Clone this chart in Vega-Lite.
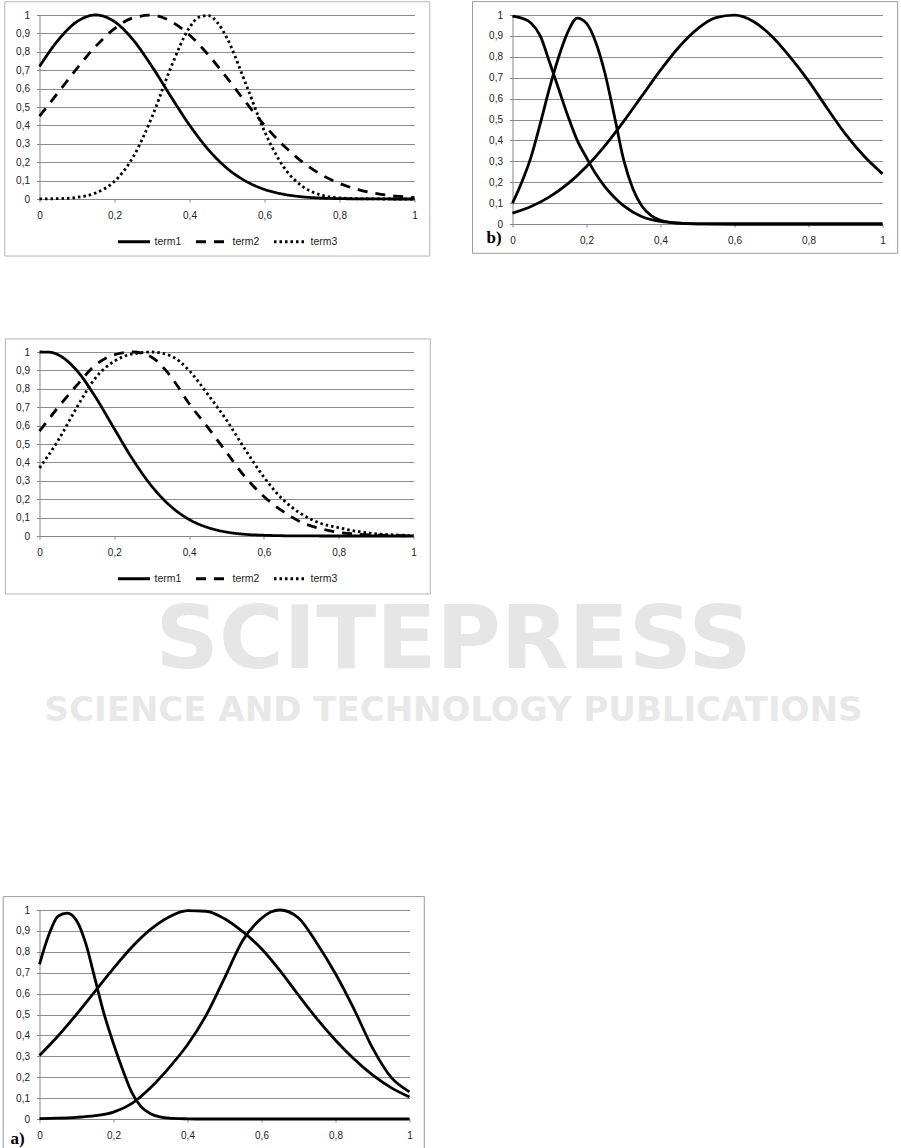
{
  "$schema": "https://vega.github.io/schema/vega-lite/v6.json",
  "padding": {"left": 2.5, "top": 1, "right": 0, "bottom": 0},
  "config": {
    "view": {"stroke": null},
    "font": "Liberation Sans",
    "axis": {"labelFont": "Liberation Sans", "labelFontSize": 10, "labelColor": "#222222", "domainColor": "#868686", "tickColor": "#868686", "gridColor": "#8c8c8c", "gridWidth": 1, "domainWidth": 1},
    "legend": {"layout": {"bottom": {"anchor": "middle"}}}
  },
  "datasets": {
    "p1": [
      {"s":"term1","x":0,"y":0.72},{"s":"term1","x":0.05,"y":0.864},{"s":"term1","x":0.1,"y":0.964},{"s":"term1","x":0.15,"y":1.0},{"s":"term1","x":0.2,"y":0.964},{"s":"term1","x":0.25,"y":0.864},{"s":"term1","x":0.3,"y":0.72},{"s":"term1","x":0.35,"y":0.558},{"s":"term1","x":0.4,"y":0.402},{"s":"term1","x":0.45,"y":0.269},{"s":"term1","x":0.5,"y":0.167},{"s":"term1","x":0.55,"y":0.097},{"s":"term1","x":0.6,"y":0.052},{"s":"term1","x":0.65,"y":0.026},{"s":"term1","x":0.7,"y":0.012},{"s":"term1","x":0.75,"y":0.005},{"s":"term1","x":0.8,"y":0.002},{"s":"term1","x":0.85,"y":0.001},{"s":"term1","x":0.9,"y":0.0003},{"s":"term1","x":0.95,"y":0.0001},{"s":"term1","x":1,"y":0},
      {"s":"term2","x":0,"y":0.45},{"s":"term2","x":0.05,"y":0.579},{"s":"term2","x":0.1,"y":0.71},{"s":"term2","x":0.15,"y":0.83},{"s":"term2","x":0.2,"y":0.926},{"s":"term2","x":0.25,"y":0.985},{"s":"term2","x":0.3,"y":0.999},{"s":"term2","x":0.35,"y":0.966},{"s":"term2","x":0.4,"y":0.891},{"s":"term2","x":0.45,"y":0.784},{"s":"term2","x":0.5,"y":0.658},{"s":"term2","x":0.55,"y":0.526},{"s":"term2","x":0.6,"y":0.401},{"s":"term2","x":0.65,"y":0.292},{"s":"term2","x":0.7,"y":0.203},{"s":"term2","x":0.75,"y":0.134},{"s":"term2","x":0.8,"y":0.085},{"s":"term2","x":0.85,"y":0.051},{"s":"term2","x":0.9,"y":0.029},{"s":"term2","x":0.95,"y":0.016},{"s":"term2","x":1,"y":0.008},
      {"s":"term3","x":0,"y":0.0004},{"s":"term3","x":0.05,"y":0.002},{"s":"term3","x":0.1,"y":0.009},{"s":"term3","x":0.15,"y":0.033},{"s":"term3","x":0.2,"y":0.096},{"s":"term3","x":0.25,"y":0.229},{"s":"term3","x":0.3,"y":0.446},{"s":"term3","x":0.35,"y":0.713},{"s":"term3","x":0.4,"y":0.932},{"s":"term3","x":0.425,"y":0.988},{"s":"term3","x":0.45,"y":0.997},{"s":"term3","x":0.475,"y":0.957},{"s":"term3","x":0.5,"y":0.874},{"s":"term3","x":0.55,"y":0.627},{"s":"term3","x":0.6,"y":0.368},{"s":"term3","x":0.65,"y":0.177},{"s":"term3","x":0.7,"y":0.07},{"s":"term3","x":0.75,"y":0.022},{"s":"term3","x":0.8,"y":0.006},{"s":"term3","x":0.85,"y":0.0013},{"s":"term3","x":0.9,"y":0.0002},{"s":"term3","x":0.95,"y":0},{"s":"term3","x":1,"y":0}
    ],
    "p2": [
      {"s":"A","x":0,"y":0.995},{"s":"A","x":0.025,"y":0.985},{"s":"A","x":0.05,"y":0.962},{"s":"A","x":0.075,"y":0.9},{"s":"A","x":0.1,"y":0.775},{"s":"A","x":0.125,"y":0.645},{"s":"A","x":0.15,"y":0.515},{"s":"A","x":0.175,"y":0.4},{"s":"A","x":0.2,"y":0.317},{"s":"A","x":0.225,"y":0.24},{"s":"A","x":0.25,"y":0.178},{"s":"A","x":0.275,"y":0.128},{"s":"A","x":0.3,"y":0.088},{"s":"A","x":0.35,"y":0.035},{"s":"A","x":0.4,"y":0.012},{"s":"A","x":0.45,"y":0.004},{"s":"A","x":0.5,"y":0.001},{"s":"A","x":0.6,"y":0},{"s":"A","x":0.7,"y":0},{"s":"A","x":0.8,"y":0},{"s":"A","x":0.9,"y":0},{"s":"A","x":1,"y":0},
      {"s":"B","x":0,"y":0.1},{"s":"B","x":0.025,"y":0.2},{"s":"B","x":0.05,"y":0.32},{"s":"B","x":0.075,"y":0.48},{"s":"B","x":0.1,"y":0.65},{"s":"B","x":0.125,"y":0.8},{"s":"B","x":0.15,"y":0.92},{"s":"B","x":0.175,"y":0.985},{"s":"B","x":0.2,"y":0.96},{"s":"B","x":0.225,"y":0.87},{"s":"B","x":0.25,"y":0.72},{"s":"B","x":0.275,"y":0.52},{"s":"B","x":0.3,"y":0.31},{"s":"B","x":0.325,"y":0.17},{"s":"B","x":0.35,"y":0.085},{"s":"B","x":0.375,"y":0.04},{"s":"B","x":0.4,"y":0.018},{"s":"B","x":0.45,"y":0.004},{"s":"B","x":0.5,"y":0.001},{"s":"B","x":0.6,"y":0},{"s":"B","x":0.7,"y":0},{"s":"B","x":0.8,"y":0},{"s":"B","x":0.9,"y":0},{"s":"B","x":1,"y":0},
      {"s":"C","x":0,"y":0.052},{"s":"C","x":0.05,"y":0.084},{"s":"C","x":0.1,"y":0.13},{"s":"C","x":0.15,"y":0.193},{"s":"C","x":0.2,"y":0.275},{"s":"C","x":0.25,"y":0.375},{"s":"C","x":0.3,"y":0.49},{"s":"C","x":0.35,"y":0.613},{"s":"C","x":0.4,"y":0.736},{"s":"C","x":0.45,"y":0.847},{"s":"C","x":0.5,"y":0.934},{"s":"C","x":0.55,"y":0.987},{"s":"C","x":0.6,"y":0.999},{"s":"C","x":0.65,"y":0.97},{"s":"C","x":0.7,"y":0.9},{"s":"C","x":0.75,"y":0.8},{"s":"C","x":0.8,"y":0.685},{"s":"C","x":0.85,"y":0.555},{"s":"C","x":0.9,"y":0.43},{"s":"C","x":0.95,"y":0.325},{"s":"C","x":1,"y":0.24}
    ],
    "p3": [
      {"s":"term1","x":0,"y":1.0},{"s":"term1","x":0.025,"y":0.999},{"s":"term1","x":0.05,"y":0.985},{"s":"term1","x":0.075,"y":0.95},{"s":"term1","x":0.1,"y":0.899},{"s":"term1","x":0.15,"y":0.754},{"s":"term1","x":0.2,"y":0.583},{"s":"term1","x":0.25,"y":0.414},{"s":"term1","x":0.3,"y":0.271},{"s":"term1","x":0.35,"y":0.163},{"s":"term1","x":0.4,"y":0.09},{"s":"term1","x":0.45,"y":0.046},{"s":"term1","x":0.5,"y":0.0215},{"s":"term1","x":0.55,"y":0.009},{"s":"term1","x":0.6,"y":0.004},{"s":"term1","x":0.65,"y":0.0014},{"s":"term1","x":0.7,"y":0.0005},{"s":"term1","x":0.8,"y":0},{"s":"term1","x":0.9,"y":0},{"s":"term1","x":1,"y":0},
      {"s":"term2","x":0,"y":0.57},{"s":"term2","x":0.05,"y":0.7},{"s":"term2","x":0.1,"y":0.82},{"s":"term2","x":0.15,"y":0.93},{"s":"term2","x":0.2,"y":0.985},{"s":"term2","x":0.25,"y":1.0},{"s":"term2","x":0.3,"y":0.972},{"s":"term2","x":0.35,"y":0.87},{"s":"term2","x":0.4,"y":0.72},{"s":"term2","x":0.45,"y":0.59},{"s":"term2","x":0.5,"y":0.455},{"s":"term2","x":0.55,"y":0.32},{"s":"term2","x":0.6,"y":0.215},{"s":"term2","x":0.65,"y":0.135},{"s":"term2","x":0.7,"y":0.075},{"s":"term2","x":0.75,"y":0.04},{"s":"term2","x":0.8,"y":0.02},{"s":"term2","x":0.85,"y":0.01},{"s":"term2","x":0.9,"y":0.005},{"s":"term2","x":0.95,"y":0.002},{"s":"term2","x":1,"y":0.001},
      {"s":"term3","x":0,"y":0.37},{"s":"term3","x":0.05,"y":0.52},{"s":"term3","x":0.1,"y":0.7},{"s":"term3","x":0.15,"y":0.86},{"s":"term3","x":0.2,"y":0.95},{"s":"term3","x":0.25,"y":0.99},{"s":"term3","x":0.3,"y":1.0},{"s":"term3","x":0.35,"y":0.98},{"s":"term3","x":0.4,"y":0.9},{"s":"term3","x":0.45,"y":0.77},{"s":"term3","x":0.5,"y":0.63},{"s":"term3","x":0.55,"y":0.47},{"s":"term3","x":0.6,"y":0.32},{"s":"term3","x":0.65,"y":0.2},{"s":"term3","x":0.7,"y":0.12},{"s":"term3","x":0.75,"y":0.07},{"s":"term3","x":0.8,"y":0.045},{"s":"term3","x":0.85,"y":0.025},{"s":"term3","x":0.9,"y":0.012},{"s":"term3","x":0.95,"y":0.006},{"s":"term3","x":1,"y":0.003}
    ],
    "p4": [
      {"s":"A","x":0,"y":0.74},{"s":"A","x":0.025,"y":0.88},{"s":"A","x":0.05,"y":0.97},{"s":"A","x":0.075,"y":0.985},{"s":"A","x":0.1,"y":0.95},{"s":"A","x":0.125,"y":0.84},{"s":"A","x":0.15,"y":0.67},{"s":"A","x":0.175,"y":0.5},{"s":"A","x":0.2,"y":0.36},{"s":"A","x":0.225,"y":0.235},{"s":"A","x":0.25,"y":0.125},{"s":"A","x":0.275,"y":0.058},{"s":"A","x":0.3,"y":0.025},{"s":"A","x":0.325,"y":0.01},{"s":"A","x":0.35,"y":0.004},{"s":"A","x":0.4,"y":0.001},{"s":"A","x":0.45,"y":0},{"s":"A","x":0.5,"y":0},{"s":"A","x":0.6,"y":0},{"s":"A","x":0.7,"y":0},{"s":"A","x":0.8,"y":0},{"s":"A","x":0.9,"y":0},{"s":"A","x":1,"y":0},
      {"s":"B","x":0,"y":0.304},{"s":"B","x":0.05,"y":0.397},{"s":"B","x":0.1,"y":0.501},{"s":"B","x":0.15,"y":0.611},{"s":"B","x":0.2,"y":0.721},{"s":"B","x":0.25,"y":0.823},{"s":"B","x":0.3,"y":0.907},{"s":"B","x":0.35,"y":0.967},{"s":"B","x":0.4,"y":0.997},{"s":"B","x":0.45,"y":0.994},{"s":"B","x":0.5,"y":0.958},{"s":"B","x":0.55,"y":0.895},{"s":"B","x":0.6,"y":0.815},{"s":"B","x":0.65,"y":0.71},{"s":"B","x":0.7,"y":0.592},{"s":"B","x":0.75,"y":0.479},{"s":"B","x":0.8,"y":0.377},{"s":"B","x":0.85,"y":0.287},{"s":"B","x":0.9,"y":0.211},{"s":"B","x":0.95,"y":0.15},{"s":"B","x":1,"y":0.105},
      {"s":"C","x":0,"y":0.002},{"s":"C","x":0.05,"y":0.004},{"s":"C","x":0.1,"y":0.008},{"s":"C","x":0.15,"y":0.016},{"s":"C","x":0.2,"y":0.033},{"s":"C","x":0.25,"y":0.075},{"s":"C","x":0.3,"y":0.15},{"s":"C","x":0.35,"y":0.245},{"s":"C","x":0.4,"y":0.355},{"s":"C","x":0.45,"y":0.495},{"s":"C","x":0.5,"y":0.674},{"s":"C","x":0.55,"y":0.856},{"s":"C","x":0.6,"y":0.96},{"s":"C","x":0.625,"y":0.99},{"s":"C","x":0.65,"y":1.0},{"s":"C","x":0.7,"y":0.962},{"s":"C","x":0.75,"y":0.84},{"s":"C","x":0.8,"y":0.695},{"s":"C","x":0.85,"y":0.526},{"s":"C","x":0.9,"y":0.34},{"s":"C","x":0.95,"y":0.2},{"s":"C","x":1,"y":0.13}
    ]
  },
  "resolve": {"scale": {"strokeDash": "independent"}},
  "spacing": 168,
  "vconcat": [
    {
      "resolve": {"scale": {"strokeDash": "independent"}},
      "spacing": 81,
      "vconcat": [
        {
          "resolve": {"scale": {"strokeDash": "independent"}},
          "spacing": 41,
          "hconcat": [
            {
              "width": 375, "height": 184,
              "layer": [
                {"data": {"values": [{"k": 1}]}, "mark": {"type": "rect", "fill": "white", "fillOpacity": 0, "stroke": "#b4b4b4", "strokeWidth": 1},
                 "encoding": {
                   "x": {"datum": -0.0925, "type": "quantitative", "scale": {"domain": [0, 1], "nice": false, "zero": false},
                         "axis": {"title": null, "values": [0, 0.2, 0.4, 0.6, 0.8, 1], "grid": false, "tickSize": 3, "labelPadding": 8, "labelFlush": false, "labelOverlap": false, "labelExpr": "replace(format(datum.value, '~g'), '.', ',')"}},
                   "x2": {"datum": 1.0408},
                   "y": {"datum": 1.072, "type": "quantitative", "scale": {"domain": [0, 1], "nice": false, "zero": false},
                         "axis": {"title": null, "values": [0, 0.1, 0.2, 0.3, 0.4, 0.5, 0.6, 0.7, 0.8, 0.9, 1], "grid": true, "tickSize": 3, "labelPadding": 7, "labelFlush": false, "labelOverlap": false, "labelExpr": "replace(format(datum.value, '~g'), '.', ',')"}},
                   "y2": {"datum": -0.31}
                 }},
                {"data": {"name": "p1"}, "mark": {"type": "line", "interpolate": "monotone", "color": "black", "strokeWidth": 2.8},
                 "encoding": {
                   "x": {"field": "x", "type": "quantitative", "scale": {"domain": [0, 1], "nice": false, "zero": false},
                         "axis": {"title": null, "values": [0, 0.2, 0.4, 0.6, 0.8, 1], "grid": false, "tickSize": 3, "labelPadding": 8, "labelFlush": false, "labelOverlap": false, "labelExpr": "replace(format(datum.value, '~g'), '.', ',')"}},
                   "y": {"field": "y", "type": "quantitative", "scale": {"domain": [0, 1], "nice": false, "zero": false},
                         "axis": {"title": null, "values": [0, 0.1, 0.2, 0.3, 0.4, 0.5, 0.6, 0.7, 0.8, 0.9, 1], "grid": true, "tickSize": 3, "labelPadding": 7, "labelFlush": false, "labelOverlap": false, "labelExpr": "replace(format(datum.value, '~g'), '.', ',')"}},
                   "strokeDash": {"field": "s", "type": "nominal",
                                  "scale": {"domain": ["term1", "term2", "term3"], "range": [[1, 0], [10, 8], [2.5, 3]]},
                                  "legend": {"title": null, "orient": "bottom", "direction": "horizontal", "symbolType": "stroke", "symbolSize": 1024, "symbolStrokeWidth": 3, "symbolStrokeColor": "black", "labelFontSize": 10.5, "labelFont": "Liberation Sans", "labelColor": "#222222", "labelOffset": 3, "columnPadding": 8, "offset": 4, "padding": 0}}
                 }}
              ]
            },
            {
              "width": 370, "height": 209,
              "layer": [
                {"data": {"values": [{"k": 1}]}, "mark": {"type": "rect", "fill": "white", "fillOpacity": 0, "stroke": "#9a9a9a", "strokeWidth": 1},
                 "encoding": {
                   "x": {"datum": -0.108, "type": "quantitative", "scale": {"domain": [0, 1], "nice": false, "zero": false},
                         "axis": {"title": null, "values": [0, 0.2, 0.4, 0.6, 0.8, 1], "grid": false, "tickSize": 3, "labelPadding": 8, "labelFlush": false, "labelOverlap": false, "labelExpr": "replace(format(datum.value, '~g'), '.', ',')"}},
                   "x2": {"datum": 1.041},
                   "y": {"datum": 1.064, "type": "quantitative", "scale": {"domain": [0, 1], "nice": false, "zero": false},
                         "axis": {"title": null, "values": [0, 0.1, 0.2, 0.3, 0.4, 0.5, 0.6, 0.7, 0.8, 0.9, 1], "grid": true, "tickSize": 3, "labelPadding": 7, "labelFlush": false, "labelOverlap": false, "labelExpr": "replace(format(datum.value, '~g'), '.', ',')"}},
                   "y2": {"datum": -0.14}
                 }},
                {"data": {"name": "p2"}, "mark": {"type": "line", "interpolate": "monotone", "color": "black", "strokeWidth": 2.8},
                 "encoding": {
                   "x": {"field": "x", "type": "quantitative", "scale": {"domain": [0, 1], "nice": false, "zero": false},
                         "axis": {"title": null, "values": [0, 0.2, 0.4, 0.6, 0.8, 1], "grid": false, "tickSize": 3, "labelPadding": 8, "labelFlush": false, "labelOverlap": false, "labelExpr": "replace(format(datum.value, '~g'), '.', ',')"}},
                   "y": {"field": "y", "type": "quantitative", "scale": {"domain": [0, 1], "nice": false, "zero": false},
                         "axis": {"title": null, "values": [0, 0.1, 0.2, 0.3, 0.4, 0.5, 0.6, 0.7, 0.8, 0.9, 1], "grid": true, "tickSize": 3, "labelPadding": 7, "labelFlush": false, "labelOverlap": false, "labelExpr": "replace(format(datum.value, '~g'), '.', ',')"}},
                   "detail": {"field": "s", "type": "nominal"}
                 }},
                {"data": {"values": [{"k": 1}]}, "mark": {"type": "text", "text": "b)", "font": "Liberation Serif", "fontWeight": "bold", "fontSize": 17, "align": "center", "baseline": "alphabetic", "color": "black"},
                 "encoding": {
                   "x": {"datum": -0.05, "type": "quantitative", "scale": {"domain": [0, 1], "nice": false, "zero": false},
                         "axis": {"title": null, "values": [0, 0.2, 0.4, 0.6, 0.8, 1], "grid": false, "tickSize": 3, "labelPadding": 8, "labelFlush": false, "labelOverlap": false, "labelExpr": "replace(format(datum.value, '~g'), '.', ',')"}},
                   "y": {"datum": -0.091, "type": "quantitative", "scale": {"domain": [0, 1], "nice": false, "zero": false},
                         "axis": {"title": null, "values": [0, 0.1, 0.2, 0.3, 0.4, 0.5, 0.6, 0.7, 0.8, 0.9, 1], "grid": true, "tickSize": 3, "labelPadding": 7, "labelFlush": false, "labelOverlap": false, "labelExpr": "replace(format(datum.value, '~g'), '.', ',')"}}
                 }}
              ]
            }
          ]
        },
        {
          "width": 374, "height": 184,
          "layer": [
            {"data": {"values": [{"k": 1}]}, "mark": {"type": "text", "text": "SCITEPRESS", "font": "DejaVu Sans", "fontWeight": "bold", "fontSize": 88, "align": "center", "baseline": "middle", "color": "#e6e6e6"},
             "encoding": {
               "x": {"datum": 1.107, "type": "quantitative", "scale": {"domain": [0, 1], "nice": false, "zero": false},
                     "axis": {"title": null, "values": [0, 0.2, 0.4, 0.6, 0.8, 1], "grid": false, "tickSize": 3, "labelPadding": 8, "labelFlush": false, "labelOverlap": false, "labelExpr": "replace(format(datum.value, '~g'), '.', ',')"}},
               "y": {"datum": -0.575, "type": "quantitative", "scale": {"domain": [0, 1], "nice": false, "zero": false},
                     "axis": {"title": null, "values": [0, 0.1, 0.2, 0.3, 0.4, 0.5, 0.6, 0.7, 0.8, 0.9, 1], "grid": true, "tickSize": 3, "labelPadding": 7, "labelFlush": false, "labelOverlap": false, "labelExpr": "replace(format(datum.value, '~g'), '.', ',')"}}
             }},
            {"data": {"values": [{"k": 1}]}, "mark": {"type": "text", "text": "SCIENCE AND TECHNOLOGY PUBLICATIONS", "font": "DejaVu Sans", "fontWeight": "bold", "fontSize": 34, "align": "center", "baseline": "middle", "color": "#e8e8e8"},
             "encoding": {
               "x": {"datum": 1.107, "type": "quantitative", "scale": {"domain": [0, 1], "nice": false, "zero": false},
                     "axis": {"title": null, "values": [0, 0.2, 0.4, 0.6, 0.8, 1], "grid": false, "tickSize": 3, "labelPadding": 8, "labelFlush": false, "labelOverlap": false, "labelExpr": "replace(format(datum.value, '~g'), '.', ',')"}},
               "y": {"datum": -0.95, "type": "quantitative", "scale": {"domain": [0, 1], "nice": false, "zero": false},
                     "axis": {"title": null, "values": [0, 0.1, 0.2, 0.3, 0.4, 0.5, 0.6, 0.7, 0.8, 0.9, 1], "grid": true, "tickSize": 3, "labelPadding": 7, "labelFlush": false, "labelOverlap": false, "labelExpr": "replace(format(datum.value, '~g'), '.', ',')"}}
             }},
            {"data": {"values": [{"k": 1}]}, "mark": {"type": "rect", "fill": "white", "fillOpacity": 0, "stroke": "#b4b4b4", "strokeWidth": 1},
             "encoding": {
               "x": {"datum": -0.091, "type": "quantitative", "scale": {"domain": [0, 1], "nice": false, "zero": false},
                     "axis": {"title": null, "values": [0, 0.2, 0.4, 0.6, 0.8, 1], "grid": false, "tickSize": 3, "labelPadding": 8, "labelFlush": false, "labelOverlap": false, "labelExpr": "replace(format(datum.value, '~g'), '.', ',')"}},
               "x2": {"datum": 1.045},
               "y": {"datum": 1.071, "type": "quantitative", "scale": {"domain": [0, 1], "nice": false, "zero": false},
                     "axis": {"title": null, "values": [0, 0.1, 0.2, 0.3, 0.4, 0.5, 0.6, 0.7, 0.8, 0.9, 1], "grid": true, "tickSize": 3, "labelPadding": 7, "labelFlush": false, "labelOverlap": false, "labelExpr": "replace(format(datum.value, '~g'), '.', ',')"}},
               "y2": {"datum": -0.315}
             }},
            {"data": {"name": "p3"}, "mark": {"type": "line", "interpolate": "monotone", "color": "black", "strokeWidth": 2.8},
             "encoding": {
               "x": {"field": "x", "type": "quantitative", "scale": {"domain": [0, 1], "nice": false, "zero": false},
                     "axis": {"title": null, "values": [0, 0.2, 0.4, 0.6, 0.8, 1], "grid": false, "tickSize": 3, "labelPadding": 8, "labelFlush": false, "labelOverlap": false, "labelExpr": "replace(format(datum.value, '~g'), '.', ',')"}},
               "y": {"field": "y", "type": "quantitative", "scale": {"domain": [0, 1], "nice": false, "zero": false},
                     "axis": {"title": null, "values": [0, 0.1, 0.2, 0.3, 0.4, 0.5, 0.6, 0.7, 0.8, 0.9, 1], "grid": true, "tickSize": 3, "labelPadding": 7, "labelFlush": false, "labelOverlap": false, "labelExpr": "replace(format(datum.value, '~g'), '.', ',')"}},
               "strokeDash": {"field": "s", "type": "nominal",
                              "scale": {"domain": ["term1", "term2", "term3"], "range": [[1, 0], [10, 8], [2.5, 3]]},
                              "legend": {"title": null, "orient": "bottom", "direction": "horizontal", "symbolType": "stroke", "symbolSize": 1024, "symbolStrokeWidth": 3, "symbolStrokeColor": "black", "labelFontSize": 10.5, "labelFont": "Liberation Sans", "labelColor": "#222222", "labelOffset": 3, "columnPadding": 8, "offset": 4, "padding": 0}}
             }}
          ]
        }
      ]
    },
    {
      "width": 370, "height": 209,
      "layer": [
        {"data": {"values": [{"k": 1}]}, "mark": {"type": "rect", "fill": "white", "fillOpacity": 0, "stroke": "#9a9a9a", "strokeWidth": 1},
         "encoding": {
           "x": {"datum": -0.098, "type": "quantitative", "scale": {"domain": [0, 1], "nice": false, "zero": false},
                 "axis": {"title": null, "values": [0, 0.2, 0.4, 0.6, 0.8, 1], "grid": false, "tickSize": 3, "labelPadding": 8, "labelFlush": false, "labelOverlap": false, "labelExpr": "replace(format(datum.value, '~g'), '.', ',')"}},
           "x2": {"datum": 1.04},
           "y": {"datum": 1.064, "type": "quantitative", "scale": {"domain": [0, 1], "nice": false, "zero": false},
                 "axis": {"title": null, "values": [0, 0.1, 0.2, 0.3, 0.4, 0.5, 0.6, 0.7, 0.8, 0.9, 1], "grid": true, "tickSize": 3, "labelPadding": 7, "labelFlush": false, "labelOverlap": false, "labelExpr": "replace(format(datum.value, '~g'), '.', ',')"}},
           "y2": {"datum": -0.144}
         }},
        {"data": {"name": "p4"}, "mark": {"type": "line", "interpolate": "monotone", "color": "black", "strokeWidth": 2.8},
         "encoding": {
           "x": {"field": "x", "type": "quantitative", "scale": {"domain": [0, 1], "nice": false, "zero": false},
                 "axis": {"title": null, "values": [0, 0.2, 0.4, 0.6, 0.8, 1], "grid": false, "tickSize": 3, "labelPadding": 8, "labelFlush": false, "labelOverlap": false, "labelExpr": "replace(format(datum.value, '~g'), '.', ',')"}},
           "y": {"field": "y", "type": "quantitative", "scale": {"domain": [0, 1], "nice": false, "zero": false},
                 "axis": {"title": null, "values": [0, 0.1, 0.2, 0.3, 0.4, 0.5, 0.6, 0.7, 0.8, 0.9, 1], "grid": true, "tickSize": 3, "labelPadding": 7, "labelFlush": false, "labelOverlap": false, "labelExpr": "replace(format(datum.value, '~g'), '.', ',')"}},
           "detail": {"field": "s", "type": "nominal"}
         }},
        {"data": {"values": [{"k": 1}]}, "mark": {"type": "text", "text": "a)", "font": "Liberation Serif", "fontWeight": "bold", "fontSize": 17, "align": "center", "baseline": "alphabetic", "color": "black"},
         "encoding": {
           "x": {"datum": -0.059, "type": "quantitative", "scale": {"domain": [0, 1], "nice": false, "zero": false},
                 "axis": {"title": null, "values": [0, 0.2, 0.4, 0.6, 0.8, 1], "grid": false, "tickSize": 3, "labelPadding": 8, "labelFlush": false, "labelOverlap": false, "labelExpr": "replace(format(datum.value, '~g'), '.', ',')"}},
           "y": {"datum": -0.12, "type": "quantitative", "scale": {"domain": [0, 1], "nice": false, "zero": false},
                 "axis": {"title": null, "values": [0, 0.1, 0.2, 0.3, 0.4, 0.5, 0.6, 0.7, 0.8, 0.9, 1], "grid": true, "tickSize": 3, "labelPadding": 7, "labelFlush": false, "labelOverlap": false, "labelExpr": "replace(format(datum.value, '~g'), '.', ',')"}}
         }}
      ]
    }
  ]
}
